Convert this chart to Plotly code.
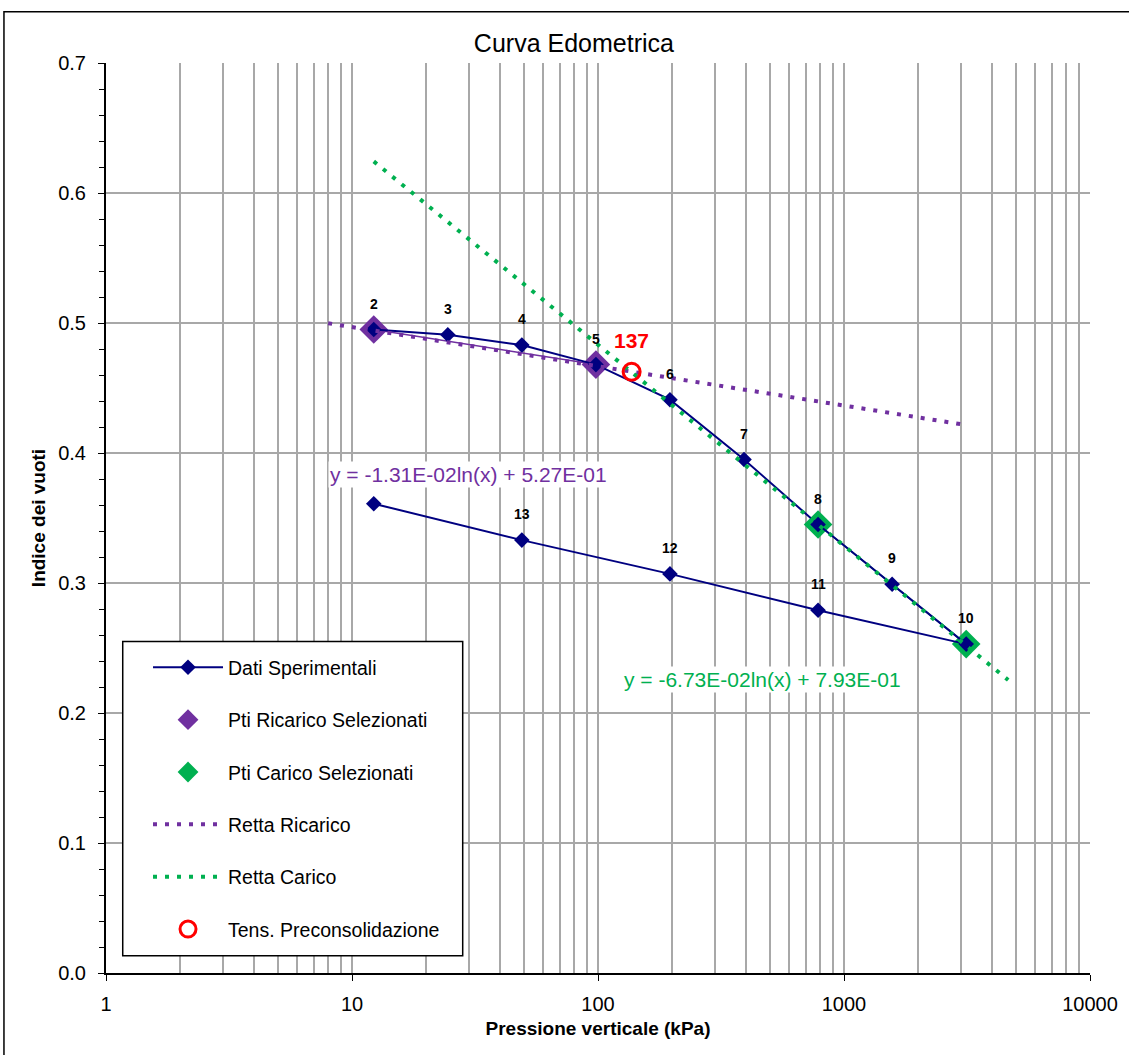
import math
import plotly.graph_objects as go

# ---- data ----
pressure = [12.26, 24.52, 49.03, 98.07, 196.1, 392.3, 784.5, 1569, 3138, 784.5, 196.1, 49.03, 12.26]
void_ratio = [0.495, 0.491, 0.483, 0.468, 0.441, 0.395, 0.345, 0.299, 0.253, 0.279, 0.307, 0.333, 0.361]
point_labels = ["2", "3", "4", "5", "6", "7", "8", "9", "10", "11", "12", "13", ""]

ric_sel_x = [12.26, 98.07]
ric_sel_y = [0.495, 0.468]
car_sel_x = [784.5, 3138]
car_sel_y = [0.345, 0.253]

retta_ric_x = [8.0, 3000]
retta_ric_y = [0.4998, 0.4221]
retta_car_x = [12.26, 4650]
retta_car_y = [0.6243, 0.2254]

precons_x = [137]
precons_y = [0.4625]

eq_ric = "y = -1.31E-02ln(x) + 5.27E-01"
eq_car = "y = -6.73E-02ln(x) + 7.93E-01"

NAVY = "#000080"
PURPLE = "#7030A0"
GREEN = "#00B050"
RED = "#FF0000"
GRID = "#A8A8A8"
FONT = "Liberation Sans, Arial"

fig = go.Figure()

fig.add_trace(go.Scatter(x=ric_sel_x, y=ric_sel_y, mode="lines", line=dict(color=PURPLE, width=1.5),
                         showlegend=False, hoverinfo="skip"))
fig.add_trace(go.Scatter(x=car_sel_x, y=car_sel_y, mode="lines", line=dict(color=GREEN, width=1.5),
                         showlegend=False, hoverinfo="skip"))
fig.add_trace(go.Scatter(x=ric_sel_x, y=ric_sel_y, mode="markers", name="Pti Ricarico Selezionati",
                         marker=dict(symbol="diamond", size=22, color=PURPLE),
                         legendgroup="b", legendrank=2))
fig.add_trace(go.Scatter(x=car_sel_x, y=car_sel_y, mode="markers", name="Pti Carico Selezionati",
                         marker=dict(symbol="diamond", size=22, color=GREEN),
                         legendgroup="c", legendrank=3))
fig.add_trace(go.Scatter(x=pressure, y=void_ratio, mode="lines+markers", name="Dati Sperimentali",
                         line=dict(color=NAVY, width=2),
                         marker=dict(symbol="diamond", size=12, color=NAVY),
                         legendgroup="a", legendrank=1))
fig.add_trace(go.Scatter(x=retta_ric_x, y=retta_ric_y, mode="lines", name="Retta Ricarico",
                         line=dict(color=PURPLE, width=4, dash="4px,8px"),
                         legendgroup="d", legendrank=4))
fig.add_trace(go.Scatter(x=retta_car_x, y=retta_car_y, mode="lines", name="Retta Carico",
                         line=dict(color=GREEN, width=4, dash="4px,8px"),
                         legendgroup="e", legendrank=5))
fig.add_trace(go.Scatter(x=precons_x, y=precons_y, mode="markers", name="Tens. Preconsolidazione",
                         marker=dict(symbol="circle-open", size=17, color=RED, line=dict(width=3, color=RED)),
                         legendgroup="f", legendrank=6))

annotations = []
for px, py, lab in zip(pressure, void_ratio, point_labels):
    if not lab:
        continue
    annotations.append(dict(x=math.log10(px), y=py, xref="x", yref="y", text="<b>%s</b>" % lab,
                            showarrow=False, yshift=26,
                            font=dict(family=FONT, size=14, color="black")))
annotations.append(dict(x=0.368, y=0.5476, xref="paper", yref="paper", text=eq_ric, showarrow=False,
                        xanchor="center", yanchor="middle",
                        bgcolor="white", font=dict(family=FONT, size=21, color=PURPLE)))
annotations.append(dict(x=0.6667, y=0.3223, xref="paper", yref="paper", text=eq_car, showarrow=False,
                        xanchor="center", yanchor="middle",
                        bgcolor="white", font=dict(family=FONT, size=21, color=GREEN)))
annotations.append(dict(x=math.log10(precons_x[0]), y=precons_y[0], xref="x", yref="y",
                        text="<b>%d</b>" % precons_x[0], showarrow=False, yshift=31,
                        font=dict(family=FONT, size=21, color=RED)))

shapes = [
    dict(type="rect", xref="paper", yref="paper", x0=-0.1037, x1=1.06, y0=-0.2, y1=1.0564,
         line=dict(color="black", width=1.5), fillcolor="rgba(0,0,0,0)", layer="below"),
    dict(type="rect", xref="paper", yref="paper", x0=0.017, x1=0.3625, y0=0.019, y1=0.3644,
         line=dict(color="black", width=1.5), fillcolor="white", layer="above"),
]

fig.update_layout(
    width=1129, height=1055,
    margin=dict(l=106, r=39, t=63, b=82),
    paper_bgcolor="white", plot_bgcolor="white",
    font=dict(family=FONT, size=20, color="black"),
    title=dict(text="Curva Edometrica", x=0.4755, xref="paper", y=0.9588, yref="container",
               xanchor="center", yanchor="middle", font=dict(size=25)),
    showlegend=True,
    legend=dict(x=0.0427, y=0.357, xanchor="left", yanchor="top", bgcolor="rgba(0,0,0,0)",
                borderwidth=0, tracegroupgap=24, itemwidth=70,
                font=dict(family=FONT, size=19.5, color="black")),
    annotations=annotations,
    shapes=shapes,
)

fig.update_xaxes(type="log", range=[0, 4], dtick=1, tickformat="d",
                 showgrid=True, gridcolor=GRID, gridwidth=1.5,
                 minor=dict(dtick="D1", showgrid=True, gridcolor=GRID, gridwidth=1.5, ticks=""),
                 showline=True, linecolor="black", linewidth=2,
                 ticks="outside", ticklen=6, tickcolor="black", ticklabelstandoff=6,
                 title=dict(text="<b>Pressione verticale (kPa)</b>", font=dict(size=19), standoff=8),
                 tickfont=dict(size=20), zeroline=False)
fig.update_yaxes(range=[0, 0.7], dtick=0.1, tickformat=".1f",
                 showgrid=True, gridcolor=GRID, gridwidth=1.5,
                 minor=dict(dtick=0.02, ticks="outside", ticklen=5, tickcolor="black", showgrid=False),
                 showline=True, linecolor="black", linewidth=2,
                 ticks="outside", ticklen=6, tickcolor="black", ticklabelstandoff=8,
                 title=dict(text="<b>Indice dei vuoti</b>", font=dict(size=19), standoff=8),
                 tickfont=dict(size=20), zeroline=False)

fig.write_html("out.html", config={"displayModeBar": False},
               post_script="document.body.style.margin='0';document.body.style.overflow='hidden';")
